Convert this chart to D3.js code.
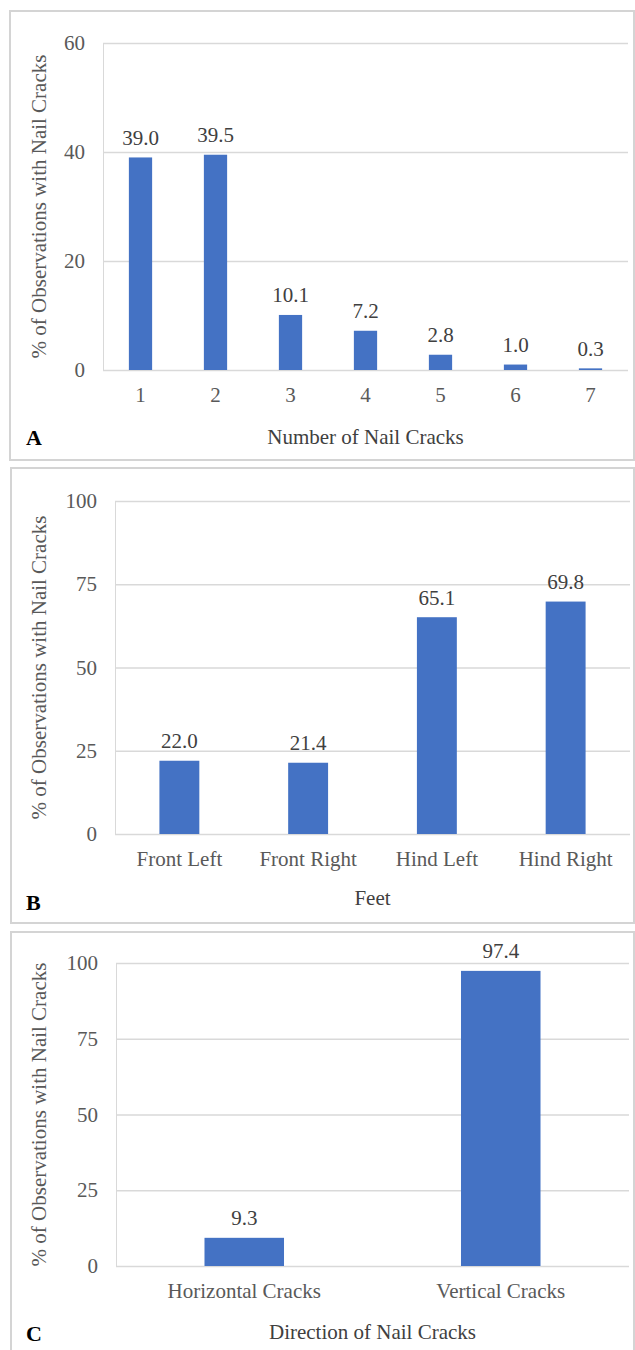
<!DOCTYPE html>
<html><head><meta charset="utf-8">
<script src="https://cdn.jsdelivr.net/npm/d3@7/dist/d3.min.js"></script>
<style>body{margin:0;background:#fff}svg{display:block}</style>
</head><body>
<svg id="chart" width="635" height="1350"></svg>
<script>
// Panel A
const catsA = ["1","2","3","4","5","6","7"];
const valsA = [39.0, 39.5, 10.1, 7.2, 2.8, 1.0, 0.3];
const ticksA = [0, 20, 40, 60];
// Panel B
const catsB = ["Front Left","Front Right","Hind Left","Hind Right"];
const valsB = [22.0, 21.4, 65.1, 69.8];
const ticksB = [0, 25, 50, 75, 100];
// Panel C
const catsC = ["Horizontal Cracks","Vertical Cracks"];
const valsC = [9.3, 97.4];
const ticksC = [0, 25, 50, 75, 100];

const panels = [
  {cats: catsA, vals: valsA, ticks: ticksA, letter: "A", xTitle: "Number of Nail Cracks",
   box: [10, 11, 624, 449], plot: [103, 43, 628, 370], xTitleY: 437, letterY: 437},
  {cats: catsB, vals: valsB, ticks: ticksB, letter: "B", xTitle: "Feet",
   box: [11, 468, 623, 455], plot: [115, 501, 630, 834], xTitleY: 898, letterY: 902},
  {cats: catsC, vals: valsC, ticks: ticksC, letter: "C", xTitle: "Direction of Nail Cracks",
   box: [11, 932, 623, 430], plot: [116, 963, 629, 1266], xTitleY: 1332, letterY: 1333}
];

const FONT = '"Liberation Serif"';
const svg = d3.select("#chart");
const barColor = "#4472C4";

panels.forEach(p => {
  const g = svg.append("g");
  g.append("rect").attr("x", p.box[0]).attr("y", p.box[1]).attr("width", p.box[2]).attr("height", p.box[3])
    .attr("fill", "#fff").attr("stroke", "#d4d4d4").attr("stroke-width", 2);
  const [x0, y0, x1, y1] = p.plot;
  const x = d3.scaleBand().domain(p.cats).range([x0, x1]).paddingInner(0.69).paddingOuter(0.345);
  const y = d3.scaleLinear().domain([0, d3.max(p.ticks)]).range([y1, y0]);

  const yAxis = d3.axisLeft(y).tickValues(p.ticks).tickSize(-(x1 - x0)).tickPadding(18);
  const ya = g.append("g").attr("transform", `translate(${x0},0)`).call(yAxis);
  ya.select(".domain").attr("stroke", "#d9d9d9").attr("stroke-width", 1);
  ya.selectAll(".tick line").attr("stroke", "#d9d9d9").attr("stroke-width", 1.3);
  ya.selectAll(".tick text").style("font-family", FONT).attr("font-size", 21).attr("fill", "#595959");

  g.selectAll("rect.bar").data(p.vals).join("rect").attr("class", "bar")
    .attr("x", (d, i) => x(p.cats[i])).attr("width", x.bandwidth())
    .attr("y", d => y(d)).attr("height", d => y(0) - y(d)).attr("fill", barColor);

  g.selectAll("text.val").data(p.vals).join("text").attr("class", "val")
    .attr("x", (d, i) => x(p.cats[i]) + x.bandwidth() / 2).attr("y", d => y(d) - 20)
    .attr("dy", "0.35em").attr("text-anchor", "middle")
    .style("font-family", FONT).attr("font-size", 21).attr("fill", "#404040")
    .text(d => d.toFixed(1));

  const xAxis = d3.axisBottom(x).tickSize(0).tickPadding(0);
  const xa = g.append("g").attr("transform", `translate(0,${y1})`).call(xAxis);
  xa.select(".domain").remove();
  xa.selectAll(".tick text").style("font-family", FONT).attr("font-size", 21).attr("fill", "#595959")
    .attr("y", 25).attr("dy", "0.35em");

  g.append("text").attr("x", (x0 + x1) / 2).attr("y", p.xTitleY).attr("dy", "0.35em")
    .attr("text-anchor", "middle").style("font-family", FONT).attr("font-size", 21).attr("fill", "#404040")
    .text(p.xTitle);
  g.append("text").attr("transform", `translate(39,${(y0 + y1) / 2}) rotate(-90)`).attr("dy", "0.35em")
    .attr("text-anchor", "middle").style("font-family", FONT).attr("font-size", 21).attr("fill", "#595959")
    .text("% of Observations with Nail Cracks");
  g.append("text").attr("x", 26).attr("y", p.letterY).attr("dy", "0.35em")
    .style("font-family", FONT).attr("font-size", 22).attr("font-weight", "bold").attr("fill", "#000")
    .text(p.letter);
});
</script>
</body></html>
